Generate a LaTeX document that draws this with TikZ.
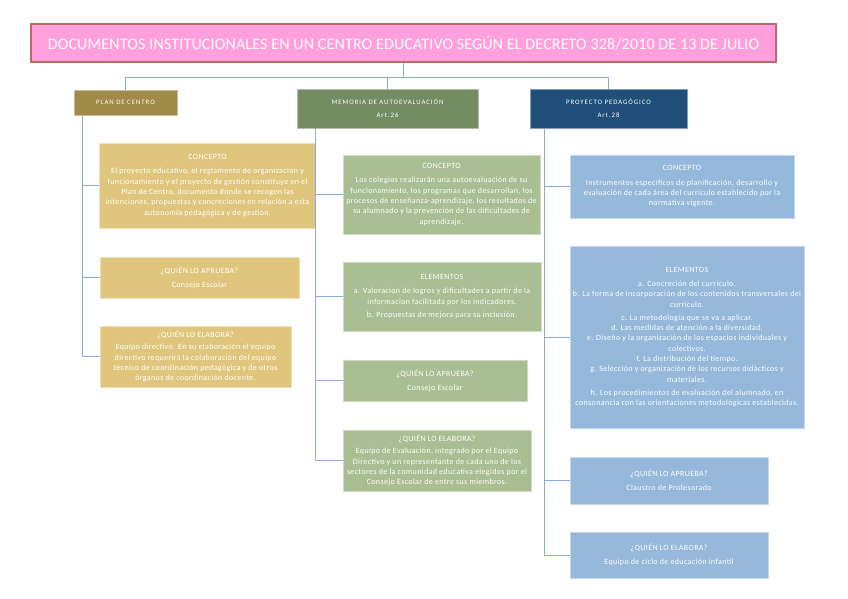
\documentclass[tikz,border=0pt]{standalone}
\usepackage{fontspec}
\setmainfont{Carlito}
\newfontfamily\boxfont[LetterSpace=4.5]{Carlito}
\newfontfamily\headfont[LetterSpace=14]{Carlito}
\newfontfamily\titlefont[LetterSpace=1]{Carlito}
\usetikzlibrary{positioning}
\definecolor{titlepink}{RGB}{255,160,220}
\definecolor{titleedge}{RGB}{185,105,105}
\definecolor{plandark}{RGB}{160,138,72}
\definecolor{planlight}{RGB}{224,198,124}
\definecolor{memdark}{RGB}{115,140,98}
\definecolor{memlight}{RGB}{169,190,146}
\definecolor{prodark}{RGB}{31,78,121}
\definecolor{prolight}{RGB}{149,184,219}
\definecolor{linkblue}{RGB}{142,169,219}

\begin{document}
\begin{tikzpicture}[x=1pt,y=-1pt,
  every node/.style={font=\boxfont\fontsize{8}{10.3}\selectfont,text=white,align=center,inner sep=0pt},
  box/.style={draw=#1!55!white,fill=#1,line width=0.6pt},
  headbox/.style={box=#1,font=\headfont\fontsize{6.8}{13}\selectfont},
  conn/.style={draw=linkblue,line width=0.9pt}]
  \useasboundingbox (0,0) rectangle (848,599);

  % title and the three documents
  \node[box=titlepink,draw=titleedge,line width=1.2pt,minimum width=745,minimum height=38,
        font=\titlefont\fontsize{16}{18}\selectfont] (title) at (403.5,43) {DOCUMENTOS INSTITUCIONALES EN UN CENTRO EDUCATIVO SEGÚN EL DECRETO 328/2010 DE 13 DE JULIO};
  \coordinate (hub) at (403.5,77);
  \node[headbox=plandark,minimum width=103,minimum height=25] (plan) at (125.5,102.5) {PLAN DE CENTRO};
  \node[headbox=memdark,minimum width=181,minimum height=39] (mem) at (387.5,108.5) {MEMORIA DE AUTOEVALUACIÓN\\Art.26};
  \node[headbox=prodark,minimum width=157,minimum height=39] (pro) at (608.5,108.5) {PROYECTO PEDAGÓGICO\\Art.28};

  % plan de centro
  \node[box=planlight,minimum width=216,minimum height=85] (planconc) at (207.5,185.5) {CONCEPTO\\[4pt]El proyecto educativo, el reglamento de organización y\\funcionamiento y el proyecto de gestión constituye en el\\Plan de Centro, documento donde se recogen las\\intenciones, propuestas y concreciones en relación a esta\\autonomía pedagógica y de gestión.};
  \node[box=planlight,minimum width=199,minimum height=41] (planapr) at (199.5,277.5) {¿QUIÉN LO APRUEBA?\\[4pt]Consejo Escolar};
  \node[box=planlight,minimum width=191,minimum height=61] (planela) at (195.5,356.5) {¿QUIÉN LO ELABORA?\\[2pt]Equipo directivo. En su elaboración el equipo\\directivo requerirá la colaboración del equipo\\técnico de coordinación pedagógica y de otros\\órganos de coordinación docente.};

  % memoria de autoevaluacion
  \node[box=memlight,minimum width=197,minimum height=79] (memconc) at (441.5,194.5) {CONCEPTO\\[4pt]Los colegios realizarán una autoevaluación de su\\funcionamiento, los programas que desarrollan, los\\procesos de enseñanza-aprendizaje, los resultados de\\su alumnado y la prevención de las dificultades de\\aprendizaje.};
  \node[box=memlight,minimum width=198,minimum height=69] (memelem) at (442,296.5) {ELEMENTOS\\[4pt]a. Valoracion de logros y dificultades a partir de la\\informacion facilitada por los indicadores.\\[3pt]b. Propuestas de mejora para su inclusión.};
  \node[box=memlight,minimum width=184,minimum height=41] (memapr) at (435,380.5) {¿QUIÉN LO APRUEBA?\\[4pt]Consejo Escolar};
  \node[box=memlight,minimum width=188,minimum height=61] (memela) at (437,460.5) {¿QUIÉN LO ELABORA?\\[2pt]Equipo de Evaluación, integrado por el Equipo\\Directivo y un representante de cada uno de los\\sectores de la comunidad educativa elegidos por el\\Consejo Escolar de entre sus miembros.};

  % proyecto pedagogico
  \node[box=prolight,minimum width=224,minimum height=63] (proconc) at (682,186.5) {CONCEPTO\\[4pt]Instrumentos específicos de planificación, desarrollo y\\evaluación de cada área del currículo establecido por la\\normativa vigente.};
  \node[box=prolight,minimum width=234,minimum height=182] (proelem) at (687,337) {ELEMENTOS\\[4pt]a. Concreción del currículo.\\b. La forma de incorporación de los contenidos transversales del\\currículo.\\[3pt]c. La metodología que se va a aplicar.\\d. Las medidas de atención a la diversidad.\\e. Diseño y la organización de los espacios individuales y\\colectivos.\\f. La distribución del tiempo.\\g. Selección y organización de los recursos didácticos y\\materiales.\\[3pt]h. Los procedimientos de evaluación del alumnado, en\\consonancia con las orientaciones metodológicas establecidas.};
  \node[box=prolight,minimum width=198,minimum height=47] (proapr) at (669,480.5) {¿QUIÉN LO APRUEBA?\\[4pt]Claustro de Profesorado};
  \node[box=prolight,minimum width=198,minimum height=46] (proela) at (669,555) {¿QUIÉN LO ELABORA?\\[4pt]Equipo de ciclo de educación infantil};

  % connectors
  \draw[conn] (title.south) -- (hub);
  \draw[conn] (hub) -| (plan.north);
  \draw[conn] (hub) -| (mem.north);
  \draw[conn] (hub) -| (pro.north);

  \draw[conn] ([xshift=9]plan.south west) |- (planconc.west);
  \draw[conn] ([xshift=9]plan.south west) |- (planapr.west);
  \draw[conn] ([xshift=9]plan.south west) |- (planela.west);

  \draw[conn] ([xshift=19]mem.south west) |- (memconc.west);
  \draw[conn] ([xshift=19]mem.south west) |- (memelem.west);
  \draw[conn] ([xshift=19]mem.south west) |- (memapr.west);
  \draw[conn] ([xshift=19]mem.south west) |- (memela.west);

  \draw[conn] ([xshift=15]pro.south west) |- (proconc.west);
  \draw[conn] ([xshift=15]pro.south west) |- (proelem.west);
  \draw[conn] ([xshift=15]pro.south west) |- (proapr.west);
  \draw[conn] ([xshift=15]pro.south west) |- (proela.west);
\end{tikzpicture}
\end{document}
